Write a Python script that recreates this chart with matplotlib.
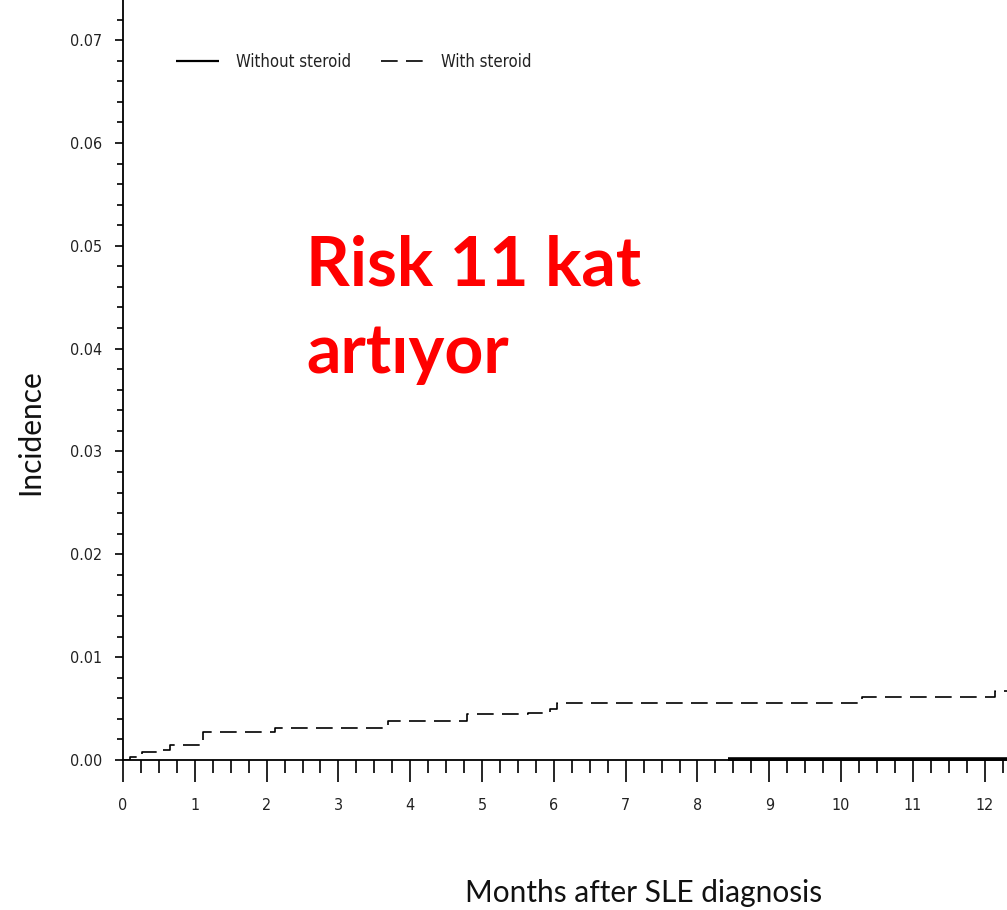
import matplotlib
matplotlib.use('Agg')
import matplotlib.pyplot as plt
from matplotlib.ticker import MultipleLocator, FormatStrFormatter

# with steroid: cumulative incidence steps
months_with = [0, 0.10, 0.26, 0.52, 0.65, 1.11, 2.12, 3.69, 4.79, 5.64, 5.95, 6.04, 10.29, 12.14, 12.31]
inc_with = [0, 0.0003, 0.0008, 0.0010, 0.0015, 0.0027, 0.0031, 0.0038, 0.0045, 0.0046, 0.0050, 0.0055, 0.0061, 0.0067, 0.0067]

# without steroid: stays at zero, drawn from ~8.4 months on
months_without = [8.43, 12.31]
inc_without = [0.00005, 0.00005]

xticks = list(range(0, 13))
yticks = [0.00, 0.01, 0.02, 0.03, 0.04, 0.05, 0.06, 0.07]

narrow = ['DejaVu Sans']

fig = plt.figure(figsize=(10.07, 9.10), dpi=100)
ax = fig.add_axes([123 / 1007, 1 - 760 / 910, 1 - 123 / 1007, 760 / 910])

ax.plot(months_without, inc_without, color='black', lw=2.6, solid_capstyle='butt',
        label='Without steroid', clip_on=False)
ax.step(months_with, inc_with, where='post', color='black', lw=1.2,
        dashes=(10, 5), label='With steroid')

ax.set_xlim(0, 12.31)
ax.set_ylim(0, 0.0739)

ax.set_xticks(xticks)
ax.set_yticks(yticks)
ax.xaxis.set_minor_locator(MultipleLocator(0.25))
ax.yaxis.set_minor_locator(MultipleLocator(0.002))
ax.yaxis.set_major_formatter(FormatStrFormatter('%.2f'))

ax.tick_params(axis='x', which='major', direction='out', length=16, width=1.2, pad=11)
ax.tick_params(axis='x', which='minor', direction='out', length=9, width=1.2)
ax.tick_params(axis='y', which='major', direction='out', length=6, width=1.2, pad=9)
ax.tick_params(axis='y', which='minor', direction='out', length=4, width=1.2)

for lab in ax.get_xticklabels() + ax.get_yticklabels():
    lab.set_family(narrow)
    lab.set_stretch('condensed')
    lab.set_fontsize(11.5)
    lab.set_color('#222222')

for side in ['top', 'right']:
    ax.spines[side].set_visible(False)
ax.spines['left'].set_linewidth(1.3)
ax.spines['bottom'].set_linewidth(1.3)

leg = ax.legend(loc='upper left', bbox_to_anchor=(0.06, 0.93), ncol=2, frameon=False,
                borderaxespad=0, borderpad=0, handlelength=2.6, handletextpad=1.0,
                columnspacing=1.8,
                prop={'family': narrow, 'size': 12, 'stretch': 'condensed'})
leg.legend_handles[0].set_linewidth(1.6)
for t in leg.get_texts():
    t.set_color('#222222')

fig.text(30 / 1007, 1 - 432 / 910, 'Incidence', rotation=90, ha='center', va='center',
         fontsize=21.5, family=['Lato', 'DejaVu Sans'], color='#111111')
fig.text(644 / 1007, 1 - 893 / 910, 'Months after SLE diagnosis', ha='center', va='center',
         fontsize=21.5, family=['Lato', 'DejaVu Sans'], color='#111111')

fig.text(306 / 1007, 1 - 285 / 910, 'Risk 11 kat', ha='left', va='baseline',
         fontsize=49, fontweight='bold', family=['Lato', 'DejaVu Sans'], color='#ff0000')
fig.text(306 / 1007, 1 - 373 / 910, 'artıyor', ha='left', va='baseline',
         fontsize=49, fontweight='bold', family=['Lato', 'DejaVu Sans'], color='#ff0000')

fig.savefig('out.png', dpi=100)
